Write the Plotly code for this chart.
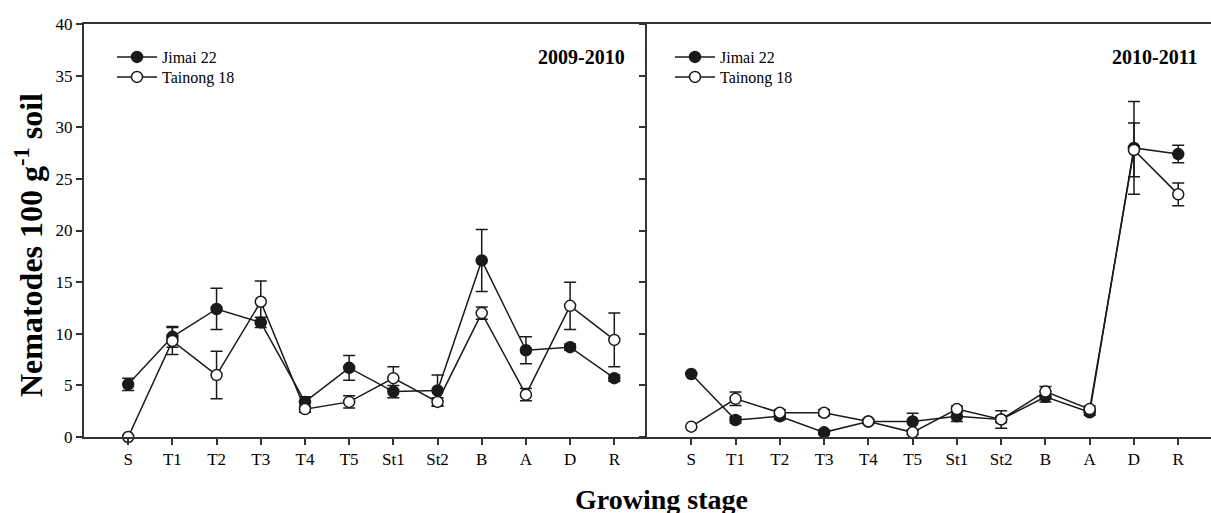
import plotly.graph_objects as go

stages = ["S", "T1", "T2", "T3", "T4", "T5", "St1", "St2", "B", "A", "D", "R"]

jimai_0910 = [5.1, 9.7, 12.4, 11.1, 3.4, 6.7, 4.4, 4.5, 17.1, 8.4, 8.7, 5.7]
jimai_0910_se = [0.6, 1.0, 2.0, 0.5, 0.5, 1.2, 0.6, 1.5, 3.0, 1.3, 0.3, 0.3]
tainong_0910 = [0.0, 9.3, 6.0, 13.1, 2.7, 3.4, 5.7, 3.4, 12.0, 4.1, 12.7, 9.4]
tainong_0910_se = [0.0, 1.3, 2.3, 2.0, 0.3, 0.6, 1.1, 0.4, 0.6, 0.6, 2.3, 2.6]

jimai_1011 = [6.1, 1.65, 2.0, 0.45, 1.5, 1.5, 2.0, 1.7, 3.9, 2.4, 28.0, 27.4]
jimai_1011_se = [0.0, 0.3, 0.3, 0.2, 0.2, 0.8, 0.5, 0.3, 0.5, 0.3, 4.5, 0.85]
tainong_1011 = [1.0, 3.7, 2.35, 2.35, 1.5, 0.45, 2.7, 1.7, 4.4, 2.7, 27.8, 23.5]
tainong_1011_se = [0.0, 0.65, 0.3, 0.3, 0.2, 0.2, 0.3, 0.85, 0.5, 0.3, 2.6, 1.1]

series_names = ["Jimai 22", "Tainong 18"]
panel_titles = ["2009-2010", "2010-2011"]
y_ticks = [0, 5, 10, 15, 20, 25, 30, 35, 40]

FONT = "Liberation Serif, Times New Roman, serif"
LINE = "#1a1a1a"
AX = "#333333"
xs = list(range(len(stages)))

fig = go.Figure()


def add(y, se, name, filled, xa, ya, leg):
    fig.add_trace(go.Scatter(
        x=xs, y=y, name=name, mode="lines+markers",
        xaxis=xa, yaxis=ya, legend=leg, showlegend=True,
        line=dict(color=LINE, width=1.5),
        marker=dict(size=11, symbol="circle",
                    color=LINE if filled else "white",
                    line=dict(color=LINE, width=1.5)),
        error_y=dict(type="data", array=se, visible=True,
                     color=LINE, thickness=1.5, width=6),
        cliponaxis=False,
    ))


add(jimai_0910, jimai_0910_se, series_names[0], True, "x", "y", "legend")
add(tainong_0910, tainong_0910_se, series_names[1], False, "x", "y", "legend2")
add(jimai_1011, jimai_1011_se, series_names[0], True, "x2", "y2", "legend3")
add(tainong_1011, tainong_1011_se, series_names[1], False, "x2", "y2", "legend4")

W, H = 1211, 513
L, R, T, B = 84, 0, 24, 76
pw, ph = W - L - R, H - T - B
split = (647 - L) / pw


def px(xp):
    return (xp - L) / pw


def py(yp):
    return (H - B - yp) / ph


xcommon = dict(tickmode="array", tickvals=xs, ticktext=stages, range=[-1.0, 11.74],
               showgrid=False, zeroline=False, showline=True, linecolor=AX, linewidth=2,
               mirror=True, ticks="outside", ticklen=6, tickwidth=1.5, tickcolor=AX,
               tickfont=dict(family=FONT, size=17, color="black"))
ycommon = dict(range=[0, 40], tickvals=y_ticks, showgrid=False, zeroline=False,
               showline=True, linecolor=AX, linewidth=2, ticks="outside", ticklen=6,
               tickwidth=1.5, tickcolor=AX,
               tickfont=dict(family=FONT, size=17, color="black"))

legcommon = dict(xanchor="left", yanchor="middle", bgcolor="rgba(0,0,0,0)",
                 font=dict(family=FONT, size=16, color="black"),
                 tracegroupgap=0, itemwidth=40)

fig.update_layout(
    width=W, height=H,
    margin=dict(l=L, r=R, t=T, b=B),
    paper_bgcolor="white", plot_bgcolor="white",
    font=dict(family=FONT, color="black"),
    xaxis=dict(domain=[0, split], anchor="y", **xcommon),
    xaxis2=dict(domain=[split, 1], anchor="y2", **xcommon),
    yaxis=dict(anchor="x", **ycommon),
    yaxis2=dict(anchor="x2", showticklabels=False, **ycommon),
    legend=dict(x=px(112), y=py(57), **legcommon),
    legend2=dict(x=px(112), y=py(77), **legcommon),
    legend3=dict(x=px(670), y=py(57), **legcommon),
    legend4=dict(x=px(670), y=py(77), **legcommon),
    annotations=[
        dict(text="<b>" + panel_titles[0] + "</b>", x=px(627), y=py(57), xref="paper", yref="paper",
             xanchor="right", yanchor="middle", showarrow=False,
             font=dict(family=FONT, size=20, color="black")),
        dict(text="<b>" + panel_titles[1] + "</b>", x=px(1200), y=py(57), xref="paper", yref="paper",
             xanchor="right", yanchor="middle", showarrow=False,
             font=dict(family=FONT, size=20, color="black")),
        dict(text="<b>Nematodes 100 g<sup>-1</sup> soil</b>", x=px(29), y=py(245),
             xref="paper", yref="paper", xanchor="center", yanchor="middle",
             textangle=-90, showarrow=False,
             font=dict(family=FONT, size=32, color="black")),
        dict(text="<b>Growing stage</b>", x=px(661), y=py(499), xref="paper", yref="paper",
             xanchor="center", yanchor="middle", showarrow=False,
             font=dict(family=FONT, size=28, color="black")),
    ],
)

fig.write_html("out.html")
